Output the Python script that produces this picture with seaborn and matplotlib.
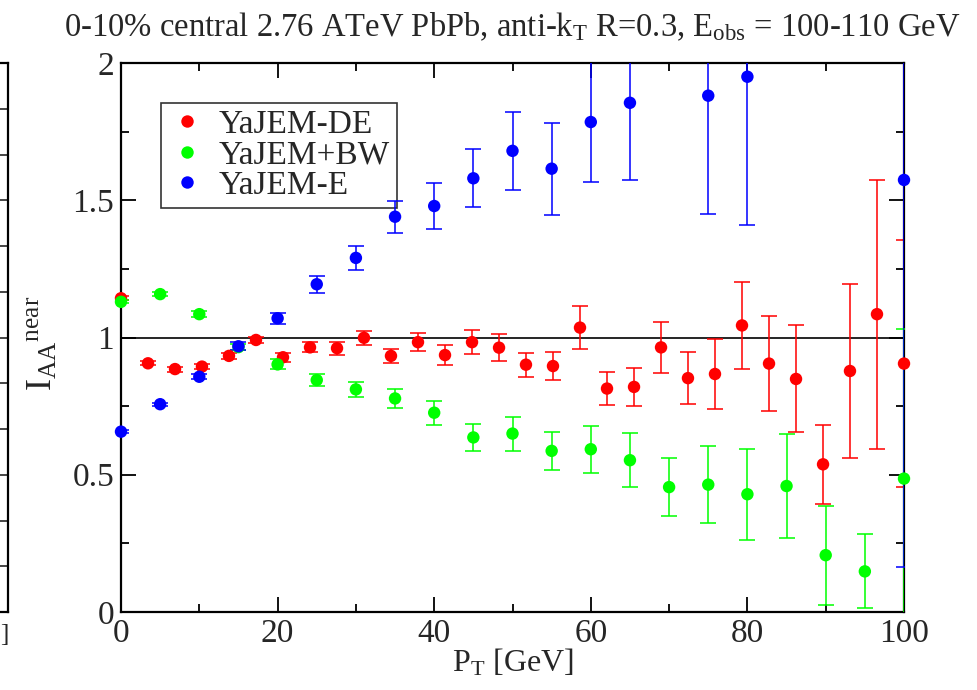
import numpy as np
import pandas as pd
import matplotlib
matplotlib.use("Agg")
import matplotlib.pyplot as plt
import seaborn as sns

# ---------------- data ----------------
red_x = [0.0, 3.45, 6.90, 10.34, 13.79, 17.24, 20.69, 24.14, 27.59, 31.03,
         34.48, 37.93, 41.38, 44.83, 48.28, 51.72, 55.17, 58.62, 62.07, 65.52,
         68.97, 72.41, 75.86, 79.31, 82.76, 86.21, 89.66, 93.10, 96.55, 100.0]
red_y = [1.143, 0.906, 0.885, 0.894, 0.933, 0.991, 0.928, 0.964, 0.961, 0.999,
         0.933, 0.983, 0.936, 0.983, 0.963, 0.901, 0.896, 1.036, 0.814, 0.820,
         0.964, 0.852, 0.867, 1.044, 0.905, 0.849, 0.538, 0.878, 1.085, 0.905]
red_err = [0.008, 0.008, 0.009, 0.010, 0.011, 0.012, 0.016, 0.018, 0.023, 0.026,
           0.026, 0.032, 0.035, 0.044, 0.048, 0.044, 0.050, 0.077, 0.061, 0.070,
           0.093, 0.095, 0.126, 0.160, 0.173, 0.195, 0.145, 0.317, 0.490, 0.450]

green_x = [0, 5, 10, 15, 20, 25, 30, 35, 40, 45, 50, 55, 60, 65, 70, 75, 80, 85, 90, 95, 100]
green_y = [1.130, 1.158, 1.085, 0.965, 0.902, 0.845, 0.811, 0.778, 0.726, 0.636, 0.650,
           0.587, 0.593, 0.553, 0.455, 0.464, 0.429, 0.459, 0.207, 0.148, 0.486]
green_err = [0.006, 0.008, 0.010, 0.012, 0.018, 0.021, 0.027, 0.035, 0.044, 0.049, 0.062,
             0.070, 0.086, 0.098, 0.106, 0.140, 0.165, 0.190, 0.180, 0.135, 0.545]

blue_x = [0, 5, 10, 15, 20, 25, 30, 35, 40, 45, 50, 55, 60, 65, 70, 75, 80, 85, 90, 95, 100]
blue_y = [0.657, 0.757, 0.857, 0.968, 1.070, 1.194, 1.290, 1.440, 1.479, 1.580, 1.680,
          1.615, 1.785, 1.855, np.nan, 1.881, 1.950, np.nan, np.nan, np.nan, 1.574]
blue_err = [0.005, 0.006, 0.009, 0.015, 0.021, 0.031, 0.044, 0.058, 0.083, 0.106, 0.141,
            0.168, 0.220, 0.280, np.nan, 0.430, 0.540, np.nan, np.nan, np.nan, 1.410]

series_names = ["YaJEM-DE", "YaJEM+BW", "YaJEM-E"]
series_colors = ["#ff0000", "#00ff00", "#0000ff"]

title_text = (r"0-10% central 2.76 ATeV PbPb, anti-k$_\mathregular{T}$ R=0.3, "
              r"E$_\mathregular{obs}$ = 100-110 GeV")
xlabel_text = r"P$_\mathregular{T}$ [GeV]"
ylabel_text = r"$\mathregular{I_{AA}{}^{near}}$"
xticks = [0, 20, 40, 60, 80, 100]
yticks = [0, 0.5, 1, 1.5, 2]
ytick_labels = ["0", "0.5", "1", "1.5", "2"]

# ---------------- style ----------------
sns.set_style("ticks")
plt.rcParams["font.family"] = ["Liberation Serif", "DejaVu Serif"]
plt.rcParams["mathtext.fontset"] = "custom"
plt.rcParams["mathtext.rm"] = "Liberation Serif"
plt.rcParams["mathtext.it"] = "Liberation Serif:italic"

df = pd.concat([
    pd.DataFrame({"x": red_x, "y": red_y, "err": red_err, "set": series_names[0]}),
    pd.DataFrame({"x": green_x, "y": green_y, "err": green_err, "set": series_names[1]}),
    pd.DataFrame({"x": blue_x, "y": blue_y, "err": blue_err, "set": series_names[2]}),
], ignore_index=True)

fig = plt.figure(figsize=(9.77, 6.9), dpi=100)
ax = fig.add_axes([121 / 977, 1 - 612 / 690, 783 / 977, 549 / 690])

# reference line at 1
ax.axhline(1.0, color="black", lw=1.2, zorder=1)

for i, (name, col) in enumerate(zip(series_names, series_colors)):
    sub = df[df["set"] == name]
    ax.errorbar(sub["x"], sub["y"], yerr=sub["err"], fmt="none", ecolor=col,
                elinewidth=1.3, capsize=6, capthick=1.3, alpha=0.85, zorder=2 + 2 * i)

sns.scatterplot(data=df, x="x", y="y", hue="set", palette=series_colors,
                hue_order=series_names, s=80, edgecolor="none", ax=ax,
                zorder=10, clip_on=False)

ax.set_xlim(0, 100)
ax.set_ylim(0, 2)
ax.set_xticks(xticks)
ax.set_xticks([10, 30, 50, 70, 90], minor=True)
ax.set_yticks(yticks)
ax.set_yticklabels(ytick_labels)
ax.set_yticks([0.25, 0.75, 1.25, 1.75], minor=True)
ax.tick_params(axis="both", which="both", direction="in", top=True, right=True,
               labelsize=24, color="black")
ax.tick_params(which="major", length=11, width=1.3, pad=5)
ax.tick_params(which="minor", length=6, width=1.3)
for s in ax.spines.values():
    s.set_linewidth(1.6)
    s.set_color("black")

ax.set_xlabel(xlabel_text, fontsize=23, labelpad=-2)
ax.set_ylabel(ylabel_text, fontsize=26)
ax.yaxis.set_label_coords(-0.078, 0.49)
ax.set_title(title_text, fontsize=23.5, pad=19)

leg = ax.legend(loc="upper left", bbox_to_anchor=(0.0507, 0.9277), borderaxespad=0,
                fontsize=24, frameon=True, fancybox=False, handletextpad=0.35,
                borderpad=0.2, labelspacing=0.0, handlelength=1.2, markerscale=1.0)
leg.get_frame().set_edgecolor("black")
leg.get_frame().set_linewidth(1.2)
leg.set_title(None)

# partial neighbouring panel at the far left edge
ax2 = fig.add_axes([-0.05, 1 - 612 / 690, 0.05 + 8 / 977, 549 / 690])
ax2.set_xlim(0, 1)
ax2.set_ylim(0, 12)
ax2.set_xticks([])
ax2.set_yticks(range(13))
ax2.set_yticklabels([])
ax2.tick_params(axis="y", which="both", left=False, right=True, direction="in",
                length=6, width=1.2)
for s in ax2.spines.values():
    s.set_linewidth(1.6)
    s.set_color("black")
fig.text(0.0, 1 - 635 / 690, "]", fontsize=18, ha="left", va="center")

fig.savefig("out.png", dpi=100)
